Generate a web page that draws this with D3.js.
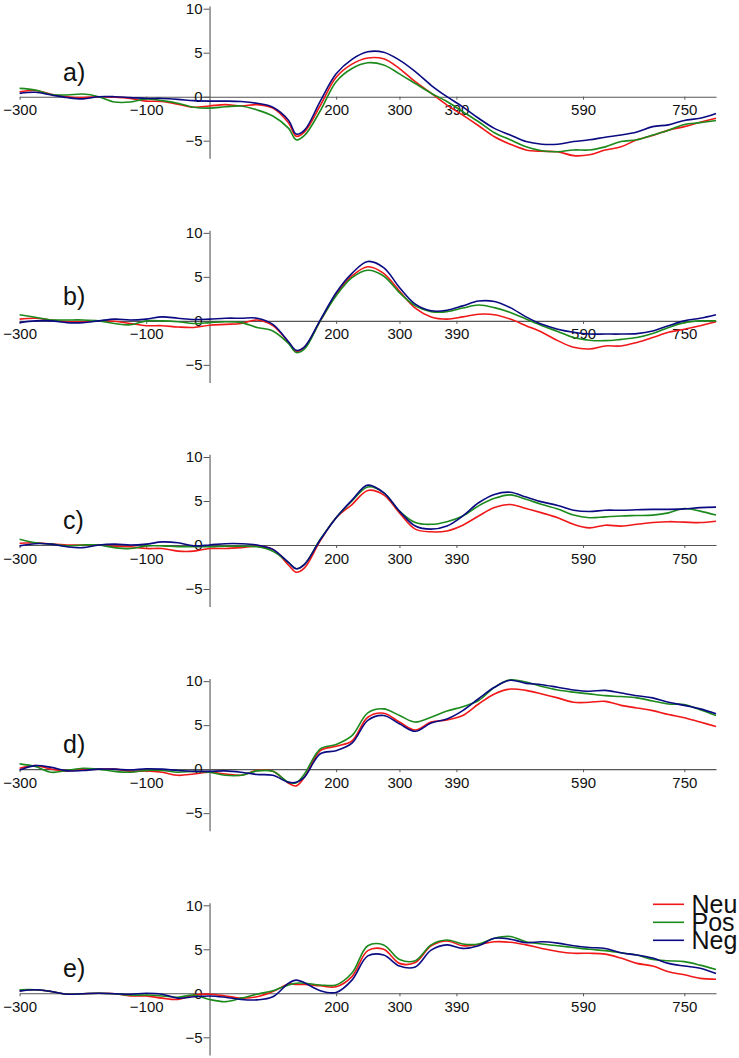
<!DOCTYPE html>
<html>
<head>
<meta charset="utf-8">
<script src="https://cdn.jsdelivr.net/npm/d3@7"></script>
<style>
  html, body { margin: 0; padding: 0; background: #fff; }
  svg { display: block; font-family: "Liberation Sans", Arial, Helvetica, sans-serif; }
</style>
</head>
<body>
<div id="chart"></div>
<script>
// ---- data ----
const times = [-300,-275,-250,-225,-200,-175,-150,-125,-100,-75,-50,-25,0,25,50,75,100,125,137,150,
  175,200,225,250,275,300,325,350,375,400,425,450,475,500,525,550,575,600,625,650,675,700,725,750,775,800];

const panelLabels = ["a)", "b)", "c)", "d)", "e)"];
const seriesNames = ["Neu", "Pos", "Neg"];
const seriesColors = ["#f01818", "#1c8a1c", "#0a0a82"];
const xTickValues = [-300, -100, 200, 300, 390, 590, 750];
const yTickValues = [-5, 0, 5, 10];

// panel a
const neuA = [0.57,0.7,0.27,0,-0.1,0,-0.05,-0.2,-0.5,-0.55, -0.85,-1.2,-1.05,-0.9,-1.05,-0.9,-1.3,-3.0,-4.5,-4.0,
  -1.0,2.2,3.7,4.4,4.3,3.2,1.7,0.4,-0.95,-2.1, -3.3,-4.55,-5.4,-6.05,-6.2,-6.25,-6.7,-6.6,-6.05,-5.7, -4.9,-4.4,-3.8,-3.4,-2.9,-2.45];
const posA = [0.95,0.76,0.25,0.2,0.3,0,-0.6,-0.6,-0.25,-0.45, -0.75,-1.2,-1.3,-1.15,-1.05,-1.5,-2.2,-3.6,-4.9,-4.4,
  -1.6,1.7,3.2,3.85,3.6,2.6,1.5,0.4,-0.55,-1.7, -2.85,-4.1,-4.9,-5.7,-6.15,-6.25,-6.05,-6.05,-5.7,-5.1, -4.9,-4.35,-3.8,-3.15,-2.95,-2.7];
const negA = [0.38,0.5,0.2,-0.1,-0.25,0,0,-0.1,-0.2,-0.2, -0.3,-0.45,-0.5,-0.5,-0.55,-0.75,-1.2,-2.7,-4.25,-3.8,
  -0.5,2.6,4.25,5.1,5.05,4.15,2.85,1.3,0,-1.15, -2.45,-3.6,-4.35,-5.1,-5.4,-5.4,-5.1,-4.9,-4.6,-4.35, -4.0,-3.4,-3.2,-2.7,-2.45,-1.9];

// panel b
const neuB = [0.2,0.3,0.1,-0.1,-0.1,0,-0.05,-0.3,-0.55,-0.55, -0.7,-0.75,-0.5,-0.4,-0.3,0.1,-0.55,-2.45,-3.5,-3.0,
  0,3.0,5.1,6.15,5.4,3.4,1.45,0.45,0.2,0.45, 0.75,0.7,0.2,-0.55,-1.3,-2.25,-3.0,-3.2,-2.85,-2.85, -2.45,-1.9,-1.3,-0.95,-0.55,-0.1];
const posB = [0.7,0.4,0.1,0.1,0.1,0,-0.3,-0.45,0,0, -0.1,-0.3,-0.2,-0.1,-0.2,-0.75,-1.15,-2.6,-3.6,-3.2,
  0,2.85,4.9,5.75,5.1,3.2,1.7,1.05,1.05,1.45, 1.8,1.5,0.95,0.2,-0.55,-1.2,-1.9,-2.2,-2.25,-2.1, -1.9,-1.45,-0.75,-0.2,0,0];
const negB = [-0.2,0,0,-0.2,-0.2,0,0.2,0.1,0.2,0.45, 0.3,0.15,0.2,0.3,0.3,0.3,-0.4,-2.4,-3.35,-2.95,
  0.1,3.2,5.4,6.75,6.05,3.8,1.9,1.15,1.2,1.7, 2.25,2.2,1.5,0.45,-0.4,-0.95,-1.3,-1.5,-1.5,-1.5, -1.45,-1.15,-0.55,0,0.3,0.7];

// panel c
const neuC = [0.2,0.25,0.1,0,0,0,-0.15,-0.2,-0.4,-0.4, -0.7,-0.7,-0.4,-0.4,-0.3,-0.15,-0.5,-2.3,-3.1,-2.6,
  0.5,3.1,4.6,6.2,5.7,3.65,1.8,1.5,1.6,2.25, 3.3,4.25,4.6,4.15,3.65,3.1,2.35,1.95,2.25,2.15, 2.35,2.55,2.65,2.6,2.55,2.7];
const posC = [0.65,0.25,0.1,-0.1,0,0,-0.3,-0.4,-0.1,-0.1, -0.2,-0.2,-0.2,-0.15,-0.15,-0.2,-0.7,-2.0,-2.7,-2.2,
  0.65,3.1,5.0,6.6,5.95,3.85,2.55,2.35,2.65,3.3, 4.45,5.3,5.7,5.2,4.6,4.1,3.4,3.1,3.2,3.3, 3.35,3.4,3.65,4.15,3.85,3.4];
const negC = [-0.1,0.15,0.1,-0.2,-0.3,0,0.1,0,0.1,0.35, 0.25,-0.1,0,0.15,0.15,0,-0.5,-2.0,-2.7,-2.2,
  0.6,3.1,5.1,6.8,5.95,3.85,2.15,1.8,2.15,3.3, 4.8,5.75,6.0,5.45,4.9,4.5,3.95,3.8,3.95,3.95, 4.0,4.05,4.05,4.1,4.25,4.3];

// panel d
const neuD = [0.1,0.4,0,-0.2,0,0,0,-0.25,-0.2,-0.35, -0.7,-0.55,-0.35,-0.55,-0.7,-0.15,-0.25,-1.6,-1.9,-0.9,
  2.1,2.6,3.2,5.9,6.35,5.35,4.45,5.35,5.6,6.1, 7.4,8.55,9.1,8.95,8.55,8.1,7.6,7.6,7.7,7.25, 6.95,6.65,6.2,5.85,5.35,4.85];
const posD = [0.6,0.3,-0.35,-0.15,0.1,0,-0.25,-0.35,-0.15,-0.15, -0.35,-0.25,-0.35,-0.7,-0.7,-0.2,-0.25,-1.5,-1.55,-0.55,
  2.3,2.8,3.8,6.4,6.85,6.1,5.35,5.9,6.6,7.1, 7.8,9.3,10.15,9.9,9.4,9.0,8.75,8.55,8.35,8.25, 8.1,7.75,7.4,7.35,6.75,6.1];
const negD = [-0.1,0.4,0.2,-0.2,-0.15,0,0,-0.1,0.05,0, -0.15,-0.25,-0.25,-0.2,-0.35,-0.6,-0.7,-1.5,-1.5,-0.9,
  1.75,2.1,2.95,5.55,6.1,5.15,4.3,5.25,5.7,6.65, 8.0,9.3,10.1,9.75,9.6,9.3,9.0,8.85,8.95,8.65, 8.35,8.1,7.6,7.25,6.85,6.3];

// panel e
const neuE = [0.3,0.4,0.2,-0.1,-0.05,0,-0.05,-0.3,-0.3,-0.55, -0.7,-0.2,-0.1,-0.3,-0.55,-0.4,0.2,1.05,1.0,1.0,
  0.85,0.75,1.9,4.85,5.0,3.4,3.5,5.4,5.95,5.4, 5.55,5.85,5.8,5.5,5.1,4.75,4.55,4.55,4.45,4.0, 3.4,3.1,2.45,2.1,1.7,1.6];
const posE = [0.4,0.4,0.2,-0.1,-0.05,0,-0.05,-0.2,-0.2,-0.3, -0.45,-0.2,-0.7,-0.95,-0.55,-0.1,0.3,0.95,1.15,1.15,
  0.95,0.95,2.3,5.4,5.5,3.85,3.7,5.5,6.05,5.6, 5.6,6.25,6.45,5.85,5.6,5.4,5.2,5.0,4.85,4.6, 4.35,3.85,3.7,3.6,3.2,2.7];
const negE = [0.25,0.4,0.2,-0.1,-0.05,0,-0.05,-0.1,0,-0.1, -0.55,-0.4,-0.3,-0.45,-0.7,-0.75,-0.4,1.15,1.5,1.2,
  0.3,0.1,1.5,4.25,4.35,3.1,3.0,4.9,5.5,5.1, 5.4,6.25,6.15,5.75,5.85,5.7,5.4,5.2,5.1,4.6, 4.35,4.0,3.4,3.1,2.85,2.25];

const panelSeries = [
  [neuA, posA, negA],
  [neuB, posB, negB],
  [neuC, posC, negC],
  [neuD, posD, negD],
  [neuE, posE, negE]
];

// ---- layout ----
const W = 739, H = 1058;
const firstZero = 96.7, panelStep = 224.15, pxPerUnit = 8.8;
const yMin = -7, yMax = 10.3;

const svg = d3.select("#chart").append("svg")
  .attr("width", W).attr("height", H);

const x = d3.scaleLinear().domain([-300, 800]).range([19.6, 716]);

panelSeries.forEach((series, i) => {
  const zero = firstZero + i * panelStep;
  const y = d3.scaleLinear().domain([yMin, yMax])
    .range([zero - yMin * pxPerUnit, zero - yMax * pxPerUnit]);
  const g = svg.append("g");

  // x axis
  const xa = g.append("g").attr("transform", `translate(0,${y(0)})`)
    .call(d3.axisBottom(x).tickValues(xTickValues).tickSize(3).tickSizeOuter(0).tickPadding(5).tickFormat(d3.format("d")));
  // y axis
  const ya = g.append("g").attr("transform", `translate(${x(0)},0)`)
    .call(d3.axisLeft(y).tickValues(yTickValues).tickSize(6).tickSizeOuter(0).tickPadding(1).tickFormat(d3.format("d")));
  [xa, ya].forEach(a => {
    a.select(".domain").attr("stroke", "#555").attr("stroke-width", 1.1);
    a.selectAll(".tick line").attr("stroke", "#555");
    a.selectAll(".tick text").attr("fill", "#111").style("font-size", "15px")
      .style("font-family", "'Liberation Sans', Arial, sans-serif");
  });

  // panel label
  g.append("text").attr("x", 63).attr("y", zero - 16)
    .style("font-size", "25px").attr("fill", "#111").text(panelLabels[i]);

  // lines
  const line = d3.line()
    .x((d, k) => x(times[k]))
    .y(d => y(d))
    .curve(d3.curveCatmullRom.alpha(0.5));
  series.forEach((vals, s) => {
    g.append("path").datum(vals)
      .attr("fill", "none")
      .attr("stroke", seriesColors[s])
      .attr("stroke-width", 1.6)
      .attr("stroke-linejoin", "round")
      .attr("d", line);
  });

  // legend in last panel
  if (i === panelSeries.length - 1) {
    const lg = g.append("g");
    seriesNames.forEach((name, s) => {
      const ly = zero - 89 + s * 18;
      lg.append("line").attr("x1", 653).attr("x2", 684).attr("y1", ly).attr("y2", ly)
        .attr("stroke", seriesColors[s]).attr("stroke-width", 1.6);
      lg.append("text").attr("x", 691.5).attr("y", ly + 9)
        .style("font-size", "25px").attr("fill", "#111").text(name);
    });
  }
});
</script>
</body>
</html>
